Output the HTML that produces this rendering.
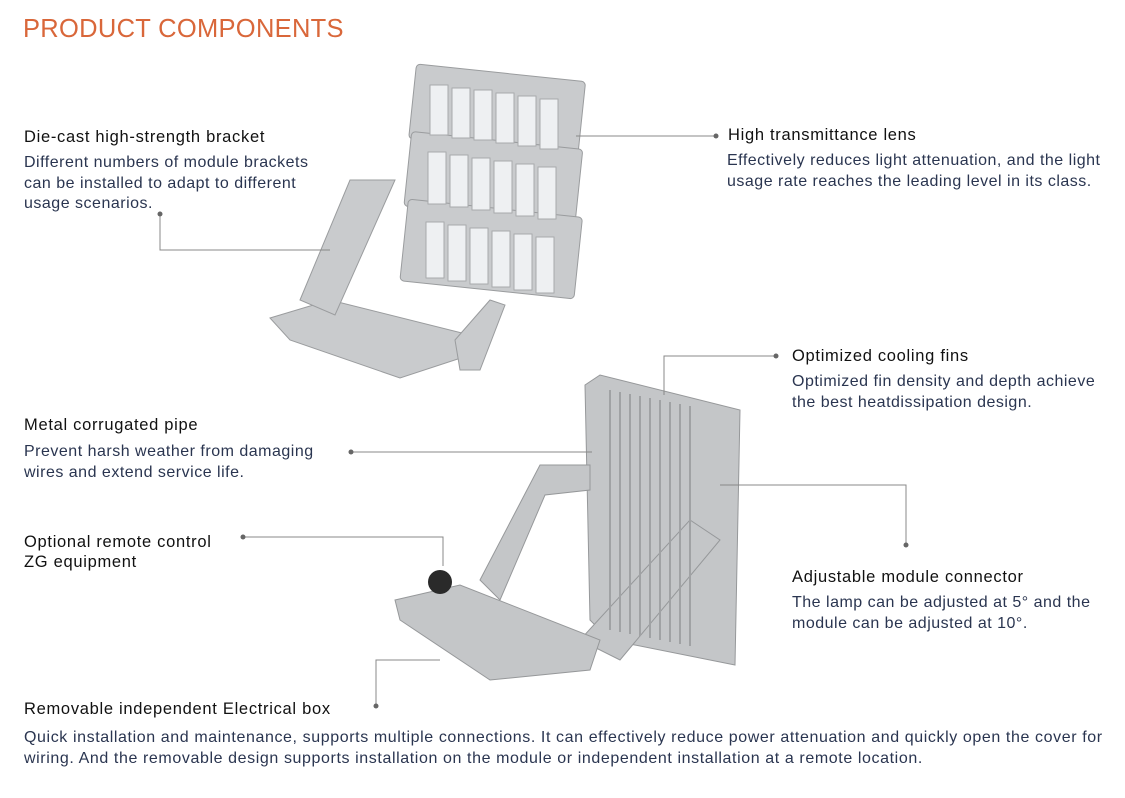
<!DOCTYPE html>
<html><head><style>
body{margin:0;width:1125px;height:798px;background:#fff;position:relative;overflow:hidden;font-family:"Liberation Sans",sans-serif}
.t{position:absolute;font-size:16.5px;color:#111;white-space:nowrap;letter-spacing:0.7px}
.b{position:absolute;font-size:16px;color:#2a3550;line-height:20.5px;letter-spacing:0.5px;white-space:nowrap}
h1{position:absolute;left:23px;top:15px;margin:0;font-weight:normal;font-size:25.5px;color:#d9673a;letter-spacing:0.3px}
svg{position:absolute;left:0;top:0}
</style></head><body>
<h1>PRODUCT COMPONENTS</h1>
<svg width="1125" height="798">
<g fill="#c9cbcd" stroke="#9a9c9e" stroke-width="1">
<polygon points="270,318 330,300 470,335 470,355 400,378 290,340"/>
<polygon points="300,300 350,180 395,180 335,315"/>
<polygon points="455,340 490,300 505,305 480,370 460,370"/>
<g transform="rotate(6 490 130)"><rect x="410" y="72" width="170" height="75" rx="4"/></g>
<g transform="rotate(6 490 200)"><rect x="405" y="140" width="172" height="75" rx="4"/></g>
<g transform="rotate(6 490 265)"><rect x="402" y="208" width="175" height="82" rx="4"/></g>
</g>
<g fill="#eef0f2" stroke="#a8aaac">
<rect x="430" y="85" width="18" height="50"/><rect x="452" y="88" width="18" height="50"/><rect x="474" y="90" width="18" height="50"/><rect x="496" y="93" width="18" height="50"/><rect x="518" y="96" width="18" height="50"/><rect x="540" y="99" width="18" height="50"/>
<rect x="428" y="152" width="18" height="52"/><rect x="450" y="155" width="18" height="52"/><rect x="472" y="158" width="18" height="52"/><rect x="494" y="161" width="18" height="52"/><rect x="516" y="164" width="18" height="52"/><rect x="538" y="167" width="18" height="52"/>
<rect x="426" y="222" width="18" height="56"/><rect x="448" y="225" width="18" height="56"/><rect x="470" y="228" width="18" height="56"/><rect x="492" y="231" width="18" height="56"/><rect x="514" y="234" width="18" height="56"/><rect x="536" y="237" width="18" height="56"/>
</g>
<g fill="#c4c6c8" stroke="#96989a">
<polygon points="585,385 600,375 740,410 735,665 610,640 590,620"/>
<polygon points="480,580 540,465 590,465 590,490 545,495 500,600"/>
<polygon points="580,640 690,520 720,540 620,660"/>
<polygon points="395,600 460,585 600,640 590,670 490,680 400,620"/>
</g>
<g stroke="#a0a2a4" stroke-width="2">
<line x1="610" y1="390" x2="610" y2="630"/><line x1="620" y1="392" x2="620" y2="632"/><line x1="630" y1="394" x2="630" y2="634"/><line x1="640" y1="396" x2="640" y2="636"/><line x1="650" y1="398" x2="650" y2="638"/><line x1="660" y1="400" x2="660" y2="640"/><line x1="670" y1="402" x2="670" y2="642"/><line x1="680" y1="404" x2="680" y2="644"/><line x1="690" y1="406" x2="690" y2="646"/>
</g>
<circle cx="440" cy="582" r="12" fill="#2a2a2a"/>
<g stroke="#888" stroke-width="1" fill="none">
<polyline points="160,214 160,250 330,250"/>
<line x1="576" y1="136" x2="716" y2="136"/>
<polyline points="776,356 664,356 664,395"/>
<line x1="351" y1="452" x2="592" y2="452"/>
<polyline points="243,537 443,537 443,566"/>
<polyline points="906,545 906,485 720,485"/>
<polyline points="376,706 376,660 440,660"/>
</g>
<g fill="#666">
<circle cx="160" cy="214" r="2.5"/><circle cx="716" cy="136" r="2.5"/><circle cx="776" cy="356" r="2.5"/><circle cx="351" cy="452" r="2.5"/><circle cx="243" cy="537" r="2.5"/><circle cx="906" cy="545" r="2.5"/><circle cx="376" cy="706" r="2.5"/>
</g>
</svg>
<div class="t" style="left:24px;top:128px">Die-cast high-strength bracket</div>
<div class="b" style="left:24px;top:153px">Different numbers of module brackets<br>can be installed to adapt to different<br>usage scenarios.</div>
<div class="t" style="left:728px;top:126px">High transmittance lens</div>
<div class="b" style="left:727px;top:151px">Effectively reduces light attenuation, and the light<br>usage rate reaches the leading level in its class.</div>
<div class="t" style="left:792px;top:347px">Optimized cooling fins</div>
<div class="b" style="left:792px;top:372px">Optimized fin density and depth achieve<br>the best heatdissipation design.</div>
<div class="t" style="left:24px;top:416px">Metal corrugated pipe</div>
<div class="b" style="left:24px;top:442px">Prevent harsh weather from damaging<br>wires and extend service life.</div>
<div class="t" style="left:24px;top:532px;line-height:20px">Optional remote control<br>ZG equipment</div>
<div class="t" style="left:792px;top:568px">Adjustable module connector</div>
<div class="b" style="left:792px;top:593px">The lamp can be adjusted at 5° and the<br>module can be adjusted at 10°.</div>
<div class="t" style="left:24px;top:700px">Removable independent Electrical box</div>
<div class="b" style="left:24px;top:728px;letter-spacing:0.6px">Quick installation and maintenance, supports multiple connections. It can effectively reduce power attenuation and quickly open the cover for<br>wiring. And the removable design supports installation on the module or independent installation at a remote location.</div>
</body></html>
